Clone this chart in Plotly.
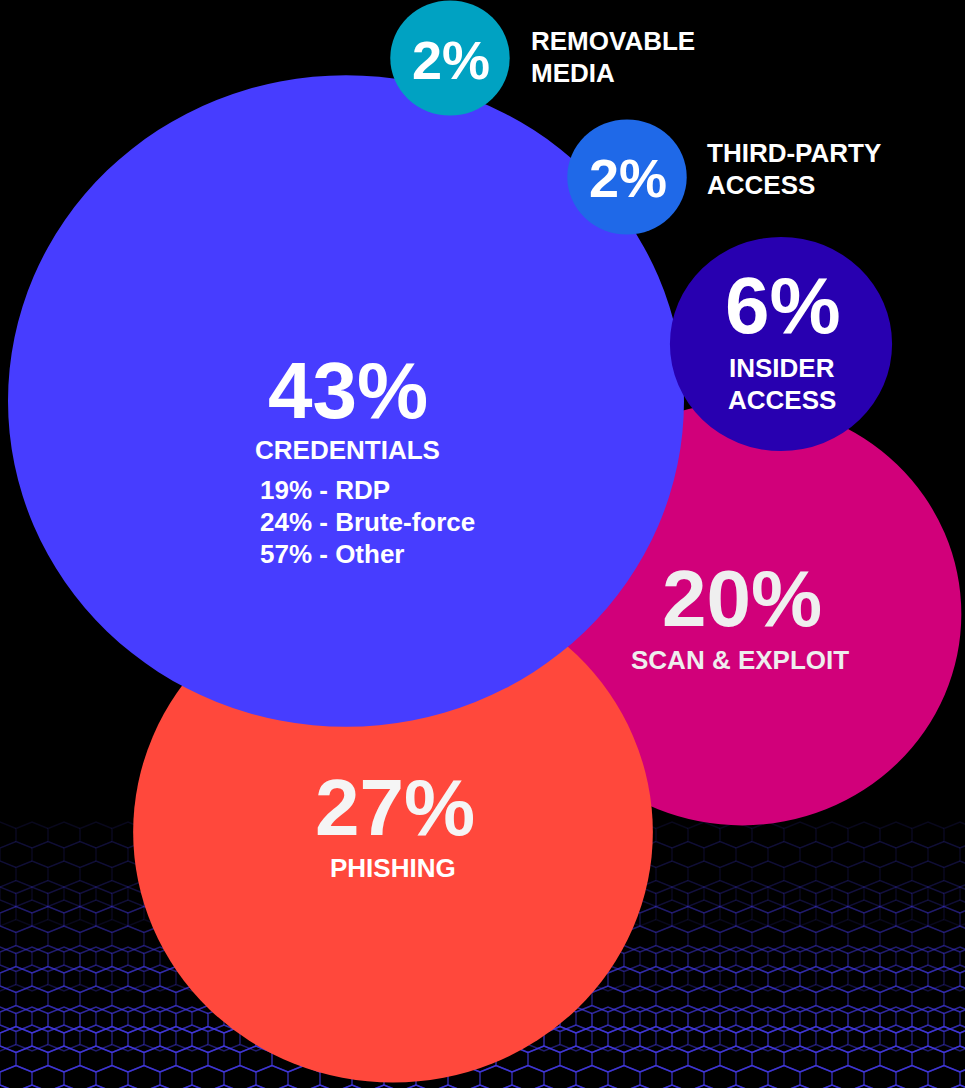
import numpy as np
import plotly.graph_objects as go

# ---------------- data ----------------
categories = ["SCAN & EXPLOIT", "PHISHING", "CREDENTIALS", "INSIDER ACCESS",
              "THIRD-PARTY ACCESS", "REMOVABLE MEDIA"]
values = [20, 27, 43, 6, 2, 2]
credential_breakdown_labels = ["RDP", "Brute-force", "Other"]
credential_breakdown_values = [19, 24, 57]

# ---------------- layout / styles ----------------
colors = ["#d1007a", "#ff483c", "#473dff", "#2800b0", "#1f69e8", "#00a2c2"]
centers = [(742, 614), (393, 832), (346, 401), (781, 344), (627, 177), (450, 58)]
R_MAX = 338          # radius (px) of the largest bubble
POWER = 0.565        # bubble radius scale exponent
Y_SQUASH = 0.964     # the original is slightly squashed vertically

W, H = 965, 1088
FONT = "Liberation Sans"

fig = go.Figure()

# decorative honeycomb mesh in the lower background
def hex_band(y0, y1, cw, ch):
    xs, ys = [], []
    row = 0
    y = y0
    while y < y1 + ch:
        off = (cw / 2) if row % 2 else 0
        x = -cw + off
        while x < W + cw:
            ang = np.deg2rad(np.arange(30, 390, 60))
            hx = x + (cw / np.sqrt(3)) * np.cos(ang)
            hy = y + (ch / 2) * np.sin(ang)
            xs += list(hx) + [None]
            ys += list(hy) + [None]
            x += cw
        y += ch * 0.75
        row += 1
    return xs, ys

bands = [(835, 900, 0.12), (900, 960, 0.26), (960, 1020, 0.45), (1020, 1095, 0.65)]
for y0, y1, op in bands:
    xs, ys = hex_band(y0, y1, 32, 26)
    fig.add_trace(go.Scatter(x=xs, y=ys, mode="lines", hoverinfo="skip",
                             line=dict(color="rgba(72,62,240,%.2f)" % op, width=1.6),
                             showlegend=False))

# bubbles
vmax = max(values)
shapes = []
for v, c, (cx, cy) in zip(values, colors, centers):
    r = R_MAX * (v / vmax) ** POWER
    ry = r * Y_SQUASH
    shapes.append(dict(type="circle", xref="x", yref="y",
                       x0=cx - r, x1=cx + r, y0=cy - ry, y1=cy + ry,
                       fillcolor=c, line=dict(width=0), layer="above"))
fig.update_layout(shapes=shapes)

ann = []
def txt(x, y, s, size, color="white", xanchor="center"):
    ann.append(dict(x=x, y=y, xref="x", yref="y", text=s, showarrow=False,
                    xanchor=xanchor, yanchor="middle",
                    font=dict(family=FONT, size=size, color=color, weight="bold")))

pct = {c: "%d%%" % v for c, v in zip(categories, values)}

# credentials
txt(348, 390, pct["CREDENTIALS"], 80)
txt(347, 450, "CREDENTIALS", 26)
for i, (lab, v) in enumerate(zip(credential_breakdown_labels, credential_breakdown_values)):
    txt(258, 490 + i * 32, "%d%% - %s" % (v, lab), 26, xanchor="left")

# phishing
txt(395, 807, pct["PHISHING"], 80, color="#f5f5f5")
txt(393, 868, "PHISHING", 26)

# scan & exploit
txt(742, 598, pct["SCAN & EXPLOIT"], 80, color="#efefef")
txt(740, 660, "SCAN &amp; EXPLOIT", 26, color="#eeeeee")

# insider
txt(783, 305, pct["INSIDER ACCESS"], 80)
txt(782, 368, "INSIDER", 26)
txt(782, 400, "ACCESS", 26)

# third-party
txt(628, 178, pct["THIRD-PARTY ACCESS"], 54)
txt(705, 153, "THIRD-PARTY", 26, xanchor="left")
txt(705, 185, "ACCESS", 26, xanchor="left")

# removable
txt(451, 60, pct["REMOVABLE MEDIA"], 54)
txt(529, 41, "REMOVABLE", 26, xanchor="left")
txt(529, 73, "MEDIA", 26, xanchor="left")

fig.update_layout(
    annotations=ann,
    width=W, height=H,
    margin=dict(l=0, r=0, t=0, b=0),
    paper_bgcolor="black", plot_bgcolor="black",
    xaxis=dict(range=[0, W], visible=False, fixedrange=True),
    yaxis=dict(range=[H, 0], visible=False, fixedrange=True),
    showlegend=False,
)

fig.write_html("out.html", config={"displayModeBar": False})
